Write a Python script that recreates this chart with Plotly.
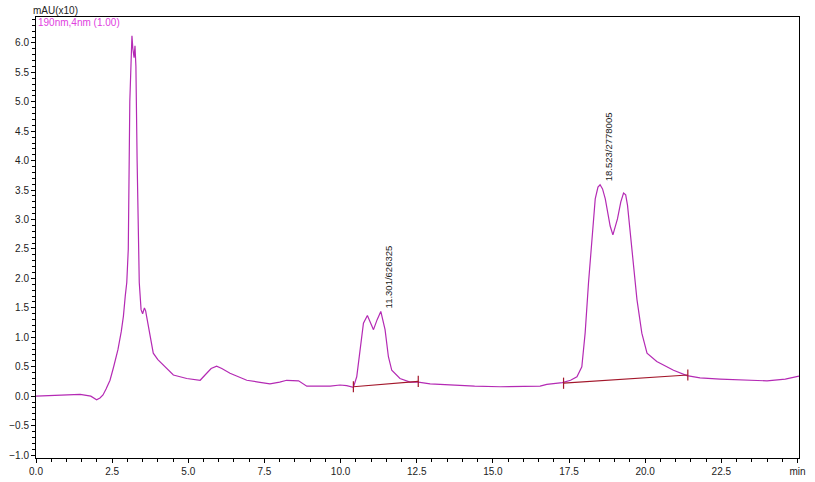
import plotly.graph_objects as go

# chromatogram trace (min, mAU x10)
time_min = [0.0, 0.5, 1.0, 1.45, 1.8, 1.99, 2.1, 2.2, 2.3, 2.43, 2.55, 2.69, 2.8, 2.87,
            2.93, 2.98, 3.03, 3.08, 3.12, 3.15, 3.18, 3.22, 3.25, 3.28, 3.32, 3.36,
            3.39, 3.45, 3.5, 3.56, 3.6, 3.63, 3.74, 3.85, 4.0, 4.18, 4.51, 4.95, 5.39,
            5.55, 5.75, 5.93, 6.1, 6.37, 6.92, 7.3, 7.68, 8.0, 8.23, 8.62, 8.89, 9.66,
            9.98, 10.2, 10.42, 10.53, 10.64, 10.75, 10.88, 10.98, 11.08, 11.2, 11.32,
            11.46, 11.57, 11.68, 11.95, 12.28, 12.55, 12.94, 13.6, 14.4, 15.24, 16.11,
            16.55, 16.77, 17.28, 17.55, 17.76, 17.92, 18.03, 18.14, 18.25, 18.36, 18.45,
            18.52, 18.6, 18.69, 18.85, 18.94, 19.09, 19.2, 19.29, 19.36, 19.42, 19.56,
            19.73, 19.89, 20.06, 20.38, 20.93, 21.37, 21.8, 22.46, 23.2, 24.0, 24.6, 25.05]
absorbance = [0.0, 0.01, 0.02, 0.03, 0.0, -0.06, -0.03, 0.02, 0.12, 0.27, 0.5, 0.79, 1.1, 1.36,
              1.7, 1.93, 2.5, 5.0, 5.65, 6.12, 5.9, 5.75, 5.95, 5.6, 4.0, 2.5,
              1.93, 1.47, 1.4, 1.5, 1.45, 1.36, 1.01, 0.73, 0.62, 0.53, 0.36, 0.3, 0.27,
              0.36, 0.47, 0.51, 0.47, 0.39, 0.27, 0.24, 0.21, 0.24, 0.27, 0.26, 0.17, 0.17,
              0.19, 0.18, 0.15, 0.33, 0.84, 1.24, 1.37, 1.25, 1.13, 1.3, 1.44,
              1.13, 0.67, 0.44, 0.3, 0.24, 0.24, 0.21, 0.19, 0.17, 0.16, 0.17,
              0.17, 0.2, 0.23, 0.27, 0.33, 0.5, 1.08, 1.93, 2.67, 3.35, 3.55,
              3.59, 3.52, 3.35, 2.89, 2.74, 3.01, 3.3, 3.45, 3.42, 3.24, 2.5,
              1.64, 1.07, 0.73, 0.59, 0.44, 0.35, 0.31, 0.29, 0.28, 0.26, 0.29, 0.34]

# integration baselines (start, end)
base_t = [[10.42, 12.55], [17.32, 21.4]]
base_y = [[0.16, 0.25], [0.22, 0.36]]

# peak labels: retention time / area
peak_rt = [11.301, 18.523]
peak_top = [1.46, 3.62]
peak_text = ["11.301/626325", "18.523/2778005"]

x_ticks = [0, 2.5, 5, 7.5, 10, 12.5, 15, 17.5, 20, 22.5, 25]
x_tick_text = ["0.0", "2.5", "5.0", "7.5", "10.0", "12.5", "15.0", "17.5", "20.0", "22.5", "min"]

font = "Arial, Liberation Sans, sans-serif"

fig = go.Figure()

fig.add_trace(go.Scatter(x=time_min, y=absorbance, mode="lines",
                         line=dict(color="#B42AB4", width=1.2),
                         hoverinfo="x+y"))

for bt, by in zip(base_t, base_y):
    fig.add_trace(go.Scatter(x=bt, y=by, mode="lines+markers",
                             line=dict(color="#A3172B", width=1.2),
                             marker=dict(symbol="line-ns", size=8,
                                         line=dict(color="#A3172B", width=1.2))))

for rt, top, txt in zip(peak_rt, peak_top, peak_text):
    fig.add_annotation(x=rt, y=top, text=txt, textangle=-90, showarrow=False,
                       xanchor="left", yanchor="bottom", xshift=1,
                       font=dict(family=font, size=9.5, color="#222"))

fig.add_annotation(xref="paper", yref="paper", x=0, y=1, xanchor="left", yanchor="bottom",
                   xshift=-5, yshift=-1, text="mAU(x10)", showarrow=False,
                   font=dict(family=font, size=10, color="#222"))
fig.add_annotation(xref="paper", yref="paper", x=0, y=1, xanchor="left", yanchor="top",
                   xshift=0, yshift=2, text="190nm,4nm (1.00)", showarrow=False,
                   font=dict(family=font, size=10, color="#E040E0"))

fig.update_layout(
    width=815, height=482,
    margin=dict(l=36, r=16, t=17, b=24),
    paper_bgcolor="white", plot_bgcolor="white",
    showlegend=False,
    font=dict(family=font, size=10, color="#222"),
    xaxis=dict(range=[0, 25.05], tickvals=x_ticks, ticktext=x_tick_text, automargin=False,
               showgrid=False, zeroline=False, showline=True, linecolor="black",
               linewidth=1, mirror=True, ticks="outside", ticklen=4, tickcolor="black",
               minor=dict(dtick=0.5, ticks="outside", ticklen=3, tickcolor="black")),
    yaxis=dict(range=[-1.05, 6.44], dtick=0.5, tickformat=".1f", automargin=False,
               showgrid=False, zeroline=False, showline=True, linecolor="black",
               linewidth=1, mirror=True, ticks="outside", ticklen=4, tickcolor="black",
               minor=dict(dtick=0.1, ticks="outside", ticklen=3, tickcolor="black")),
)

# drop the page's default body margin so the figure fills the window
fig.write_html("out.html", config={"displayModeBar": False},
               post_script="document.body.style.margin='0';")
